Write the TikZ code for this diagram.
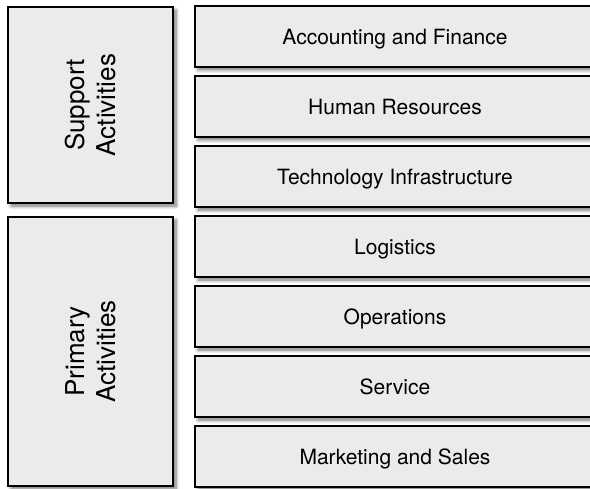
\documentclass[tikz,border=0pt]{standalone}
\usepackage{fontspec}
\setmainfont{TeX Gyre Heros}
\usepackage{tikz}
\usetikzlibrary{positioning,shadows.blur}
\usepackage{xcolor}
\definecolor{boxgray}{RGB}{235,235,235}

\begin{document}
\begin{tikzpicture}[x=1pt, y=-1pt,
  box/.style={rectangle, draw=black, line width=2.2pt, fill=boxgray, outer sep=0pt,
    blur shadow={shadow xshift=3pt, shadow yshift=-3pt, shadow blur radius=3.5pt,
      shadow blur steps=8, shadow opacity=55}},
  activity/.style={box, minimum width=400pt, minimum height=61pt,
    text height=17pt, text depth=0pt, font=\fontsize{21}{25}\selectfont},
  group/.style={box, minimum width=165pt, rotate=90, align=center,
    font=\fontsize{26}{31}\selectfont}]
  \useasboundingbox (0,0) rectangle (590,489);
  \clip (0,0) rectangle (590,489);

  % support activities
  \node (support) [group, minimum height=165pt, minimum width=196pt] at (90.5,105)
    {Support\\Activities};
  \node (acct) [activity] at (395,36.5) {Accounting and Finance};
  \node (hr) [activity, below=9pt of acct] {Human Resources};
  \node (tech) [activity, below=9pt of hr] {Technology Infrastructure};

  % primary activities
  \node (primary) [group, minimum height=165pt, minimum width=269pt] at (90.5,351.5)
    {Primary\\Activities};
  \node (logistics) [activity, below=9pt of tech] {Logistics};
  \node (operations) [activity, below=9pt of logistics] {Operations};
  \node (service) [activity, below=9pt of operations] {Service};
  \node (sales) [activity, below=9pt of service] {Marketing and Sales};
\end{tikzpicture}
\end{document}
